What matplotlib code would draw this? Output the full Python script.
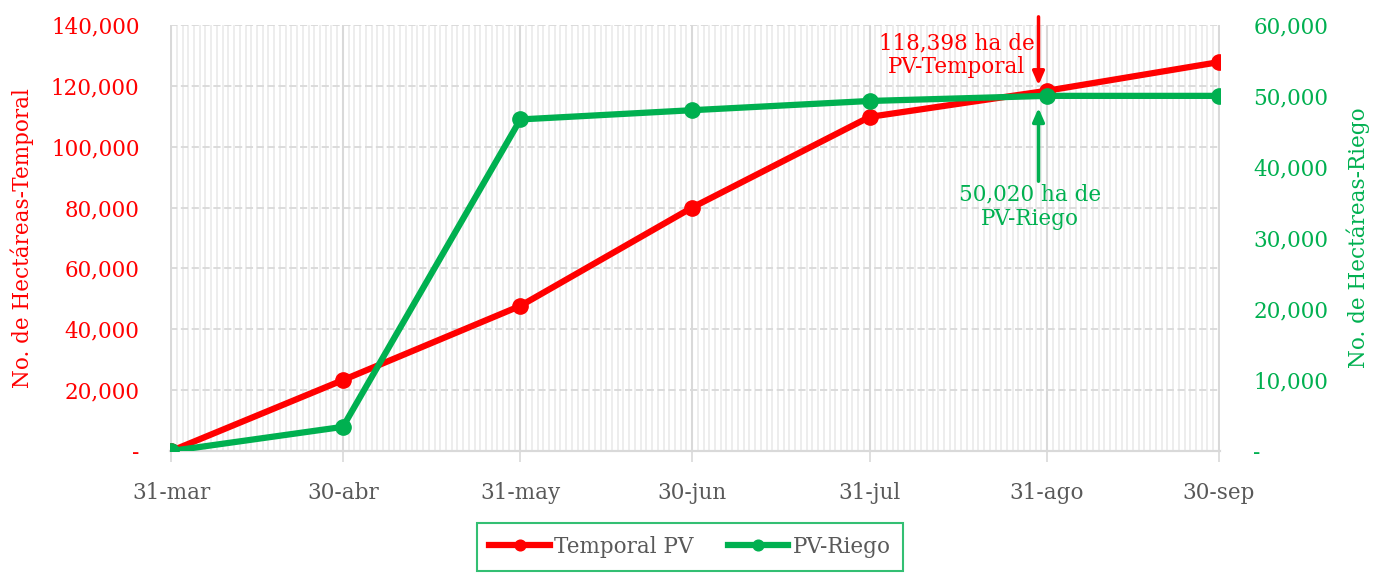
import numpy as np
import matplotlib
matplotlib.use('Agg')
import matplotlib.pyplot as plt
import matplotlib.dates as mdates
from matplotlib.ticker import FuncFormatter, MultipleLocator
import datetime as dt

plt.rcParams['font.family'] = ['DejaVu Serif']

# datos
fechas = ['2023-03-31', '2023-04-30', '2023-05-31', '2023-06-30',
          '2023-07-31', '2023-08-31', '2023-09-30']
etiquetas = ['31-mar', '30-abr', '31-may', '30-jun', '31-jul', '31-ago', '30-sep']
temporal = [0, 23300, 47700, 80000, 109800, 118398, 127800]
riego = [0, 3400, 46700, 48000, 49300, 50020, 50020]

ROJO = '#FF0000'
VERDE = '#00B050'
GRIS = '#595959'
FS = 15.5

x = [dt.datetime.strptime(f, '%Y-%m-%d') for f in fechas]

fig = plt.figure(figsize=(13.73, 5.73), dpi=100)
ax = fig.add_axes([170/1373, 1-451/573, 1050/1373, 426/573])
ax2 = ax.twinx()

l1, = ax.plot(x, temporal, color=ROJO, lw=4.5, marker='o', ms=11, label='Temporal PV', zorder=3)
l2, = ax2.plot(x, riego, color=VERDE, lw=4.5, marker='o', ms=11, label='PV-Riego', zorder=3)

ax.set_xlim(x[0] - dt.timedelta(days=0.2), x[-1] + dt.timedelta(days=0.2))
ax.set_ylim(0, 140000)
ax2.set_ylim(0, 60000)

fmt = FuncFormatter(lambda v, p: '-' if v == 0 else f'{v:,.0f}')
ax.yaxis.set_major_locator(MultipleLocator(20000))
ax2.yaxis.set_major_locator(MultipleLocator(10000))
ax.yaxis.set_major_formatter(fmt)
ax2.yaxis.set_major_formatter(fmt)

ax.set_xticks(x)
ax.set_xticklabels(etiquetas)
ax.xaxis.set_minor_locator(mdates.DayLocator())

ax.tick_params(axis='x', which='major', colors='#d9d9d9', labelcolor=GRIS,
               labelsize=FS, length=8, width=1.2, pad=14)
ax.tick_params(axis='x', which='minor', length=0)
ax.tick_params(axis='y', colors=ROJO, labelsize=FS, length=0, pad=22)
ax2.tick_params(axis='y', colors=VERDE, labelsize=FS, length=0, pad=24)

ax.grid(axis='x', which='minor', color='#e8e8e8', lw=1.1)
ax.grid(axis='x', which='major', color='#d9d9d9', lw=1.5)
ax.grid(axis='y', which='major', color='#d9d9d9', lw=1.3, ls=(0, (4, 2)))
ax.set_axisbelow(True)

for a in (ax, ax2):
    for s in ('top', 'left', 'right'):
        a.spines[s].set_visible(False)
    a.spines['bottom'].set_color('#d9d9d9')
    a.spines['bottom'].set_linewidth(1.5)

ax.set_ylabel('No. de Hectáreas-Temporal', color=ROJO, fontsize=FS, labelpad=12)
ax2.set_ylabel('No. de Hectáreas-Riego', color=VERDE, fontsize=FS, labelpad=13)

# anotaciones
xa = x[5] - dt.timedelta(days=1.5)
ax.annotate('', xy=(xa, 119300), xytext=(xa, 143600), annotation_clip=False,
            arrowprops=dict(arrowstyle='-|>,head_length=0.8,head_width=0.35', color=ROJO, lw=2.5))
ax.text(x[0] + dt.timedelta(days=137.2), 130100, '118,398 ha de\nPV-Temporal',
        color=ROJO, fontsize=FS, ha='center', va='center', linespacing=1.1)
ax2.annotate('', xy=(xa, 48700), xytext=(xa, 37600), annotation_clip=False,
             arrowprops=dict(arrowstyle='-|>,head_length=0.8,head_width=0.35', color=VERDE, lw=2.5))
ax2.text(x[0] + dt.timedelta(days=150), 34400, '50,020 ha de\nPV-Riego',
         color=VERDE, fontsize=FS, ha='center', va='center', linespacing=1.1)

leg = fig.legend([l1, l2], ['Temporal PV', 'PV-Riego'], loc='upper center',
                 bbox_to_anchor=(690/1373, 1-523/573), ncol=2, fontsize=FS,
                 frameon=True, fancybox=False, edgecolor=VERDE, handlelength=2.8,
                 handletextpad=0.2, columnspacing=1.6, borderpad=0.6, borderaxespad=0,
                 markerscale=0.7)
leg.get_frame().set_linewidth(1.5)
for t in leg.get_texts():
    t.set_color(GRIS)

fig.savefig('out.png', dpi=100)
